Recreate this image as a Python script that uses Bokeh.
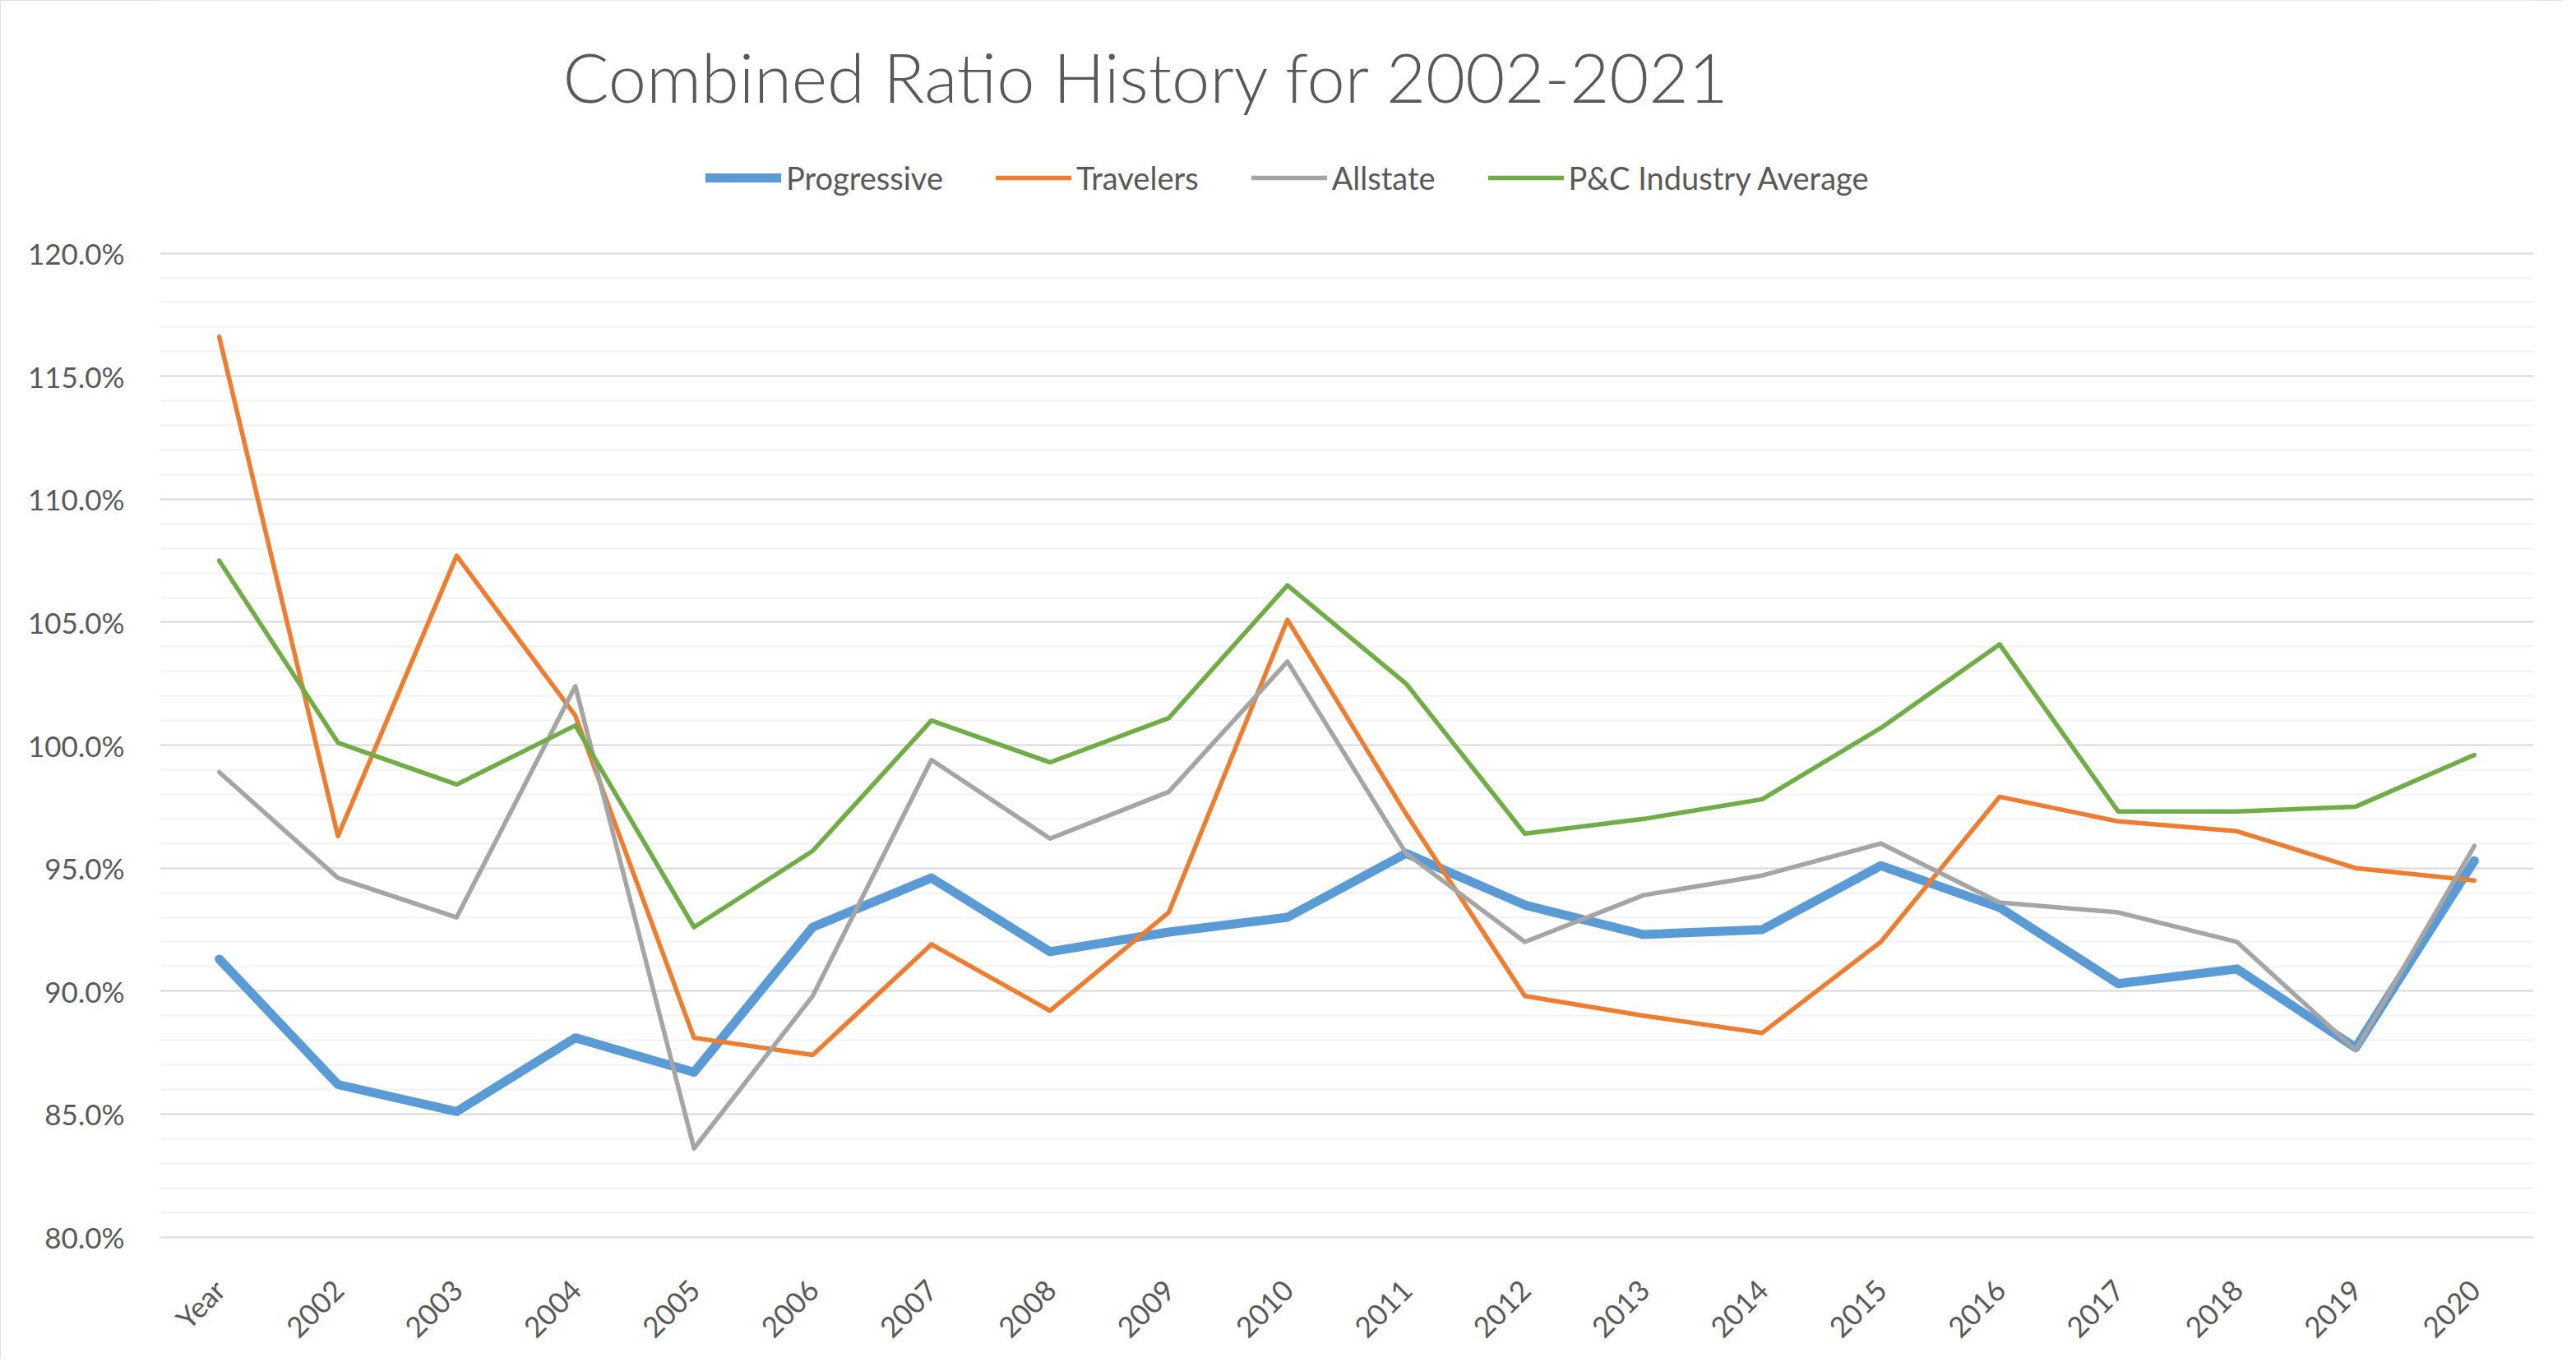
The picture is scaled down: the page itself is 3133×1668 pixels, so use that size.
import math

from bokeh.plotting import figure
from bokeh.models import (FactorRange, Range1d, Legend, LegendItem, Label,
                          PrintfTickFormatter, FixedTicker)
from bokeh.embed import file_html
from bokeh.resources import INLINE

# data (combined ratio, %)
years = ["Year", "2002", "2003", "2004", "2005", "2006", "2007", "2008", "2009", "2010",
         "2011", "2012", "2013", "2014", "2015", "2016", "2017", "2018", "2019", "2020"]
progressive = [91.3, 86.2, 85.1, 88.1, 86.7, 92.6, 94.6, 91.6, 92.4, 93.0,
               95.6, 93.5, 92.3, 92.5, 95.1, 93.4, 90.3, 90.9, 87.7, 95.3]
travelers = [116.6, 96.3, 107.7, 101.2, 88.1, 87.4, 91.9, 89.2, 93.2, 105.1,
             97.2, 89.8, 89.0, 88.3, 92.0, 97.9, 96.9, 96.5, 95.0, 94.5]
allstate = [98.9, 94.6, 93.0, 102.4, 83.6, 89.8, 99.4, 96.2, 98.1, 103.4,
            95.6, 92.0, 93.9, 94.7, 96.0, 93.6, 93.2, 92.0, 87.6, 95.9]
pc_average = [107.5, 100.1, 98.4, 100.8, 92.6, 95.7, 101.0, 99.3, 101.1, 106.5,
              102.5, 96.4, 97.0, 97.8, 100.7, 104.1, 97.3, 97.3, 97.5, 99.6]
major_ticks = [80, 85, 90, 95, 100, 105, 110, 115, 120]
minor_ticks = [v for v in range(81, 120) if v % 5 != 0]

series = [
    ("Progressive", progressive, "#5B9BD5", 11),
    ("Travelers", travelers, "#ED7D31", 5.5),
    ("Allstate", allstate, "#A5A5A5", 5.5),
    ("P&C Industry Average", pc_average, "#70AD47", 5.5),
]

TXT = "#595959"
FONT = "Lato"

W, H = 3117, 1652
LEFT, RIGHT, BOTTOM = 194, 36, 136
FRAME_H = H - BOTTOM          # frame runs up to the top so the header is not clipped
PLOT_TOP = 310                # where 120% sits, from the top of the figure
per_px = 40 / (FRAME_H - PLOT_TOP)

p = figure(width=W, height=H, x_range=FactorRange(*years, range_padding=0),
           y_range=Range1d(80 - 1.5 * per_px, 120 + PLOT_TOP * per_px),
           output_backend="svg", toolbar_location=None,
           min_border_left=LEFT, min_border_right=RIGHT,
           min_border_top=0, min_border_bottom=BOTTOM)
p.outline_line_color = None
p.background_fill_color = "white"
p.border_fill_color = "white"
p.styles = {"outline": "2px solid #d9d9d9", "outline-offset": "-2px"}

# axes
p.yaxis.ticker = FixedTicker(ticks=major_ticks, minor_ticks=minor_ticks)
p.yaxis.formatter = PrintfTickFormatter(format="%.1f%%")
for ax in (p.xaxis, p.yaxis):
    ax.axis_line_color = None
    ax.major_tick_line_color = None
    ax.minor_tick_line_color = None
    ax.major_label_text_font = FONT
    ax.major_label_text_font_size = "35px"
    ax.major_label_text_color = TXT
p.yaxis.major_label_standoff = 37
p.xaxis.major_label_orientation = math.pi / 4
p.xaxis.major_label_standoff = 50

p.xgrid.grid_line_color = None
p.ygrid.grid_line_color = "#d9d9d9"
p.ygrid.grid_line_width = 2
p.ygrid.minor_grid_line_color = "#f2f2f2"
p.ygrid.minor_grid_line_width = 2

items = []
for name, vals, color, lw in series:
    r = p.line(years, vals, line_color=color, line_width=lw,
               line_join="round", line_cap="round")
    items.append(LegendItem(label=name, renderers=[r]))

# legend and title sit in the top part of the frame (screen px from frame bottom)
legend = Legend(items=items, orientation="horizontal", location=(664, FRAME_H - 249),
                glyph_width=92, glyph_height=20, label_standoff=6, spacing=64,
                padding=0, margin=0, border_line_color=None,
                background_fill_alpha=0, label_text_font=FONT,
                label_text_font_size="38px", label_text_color=TXT)
p.add_layout(legend, "center")

title = Label(x=684 - LEFT, y=FRAME_H - 102, x_units="screen", y_units="screen",
              text="Combined Ratio History for 2002-2021",
              text_font="'Lato Light', Lato", text_font_size="83px",
              text_color=TXT, text_baseline="alphabetic")
p.add_layout(title)

open("out.html", "w").write(file_html(p, INLINE))
